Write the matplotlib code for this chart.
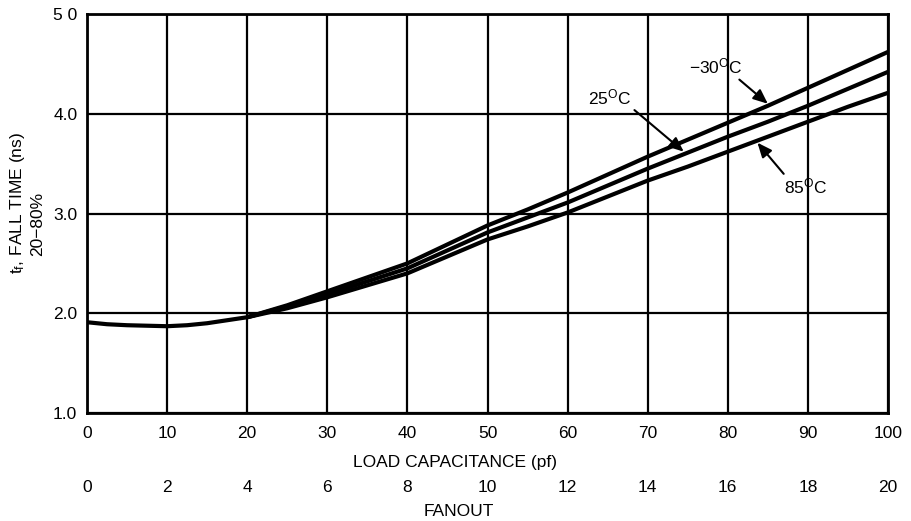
import matplotlib
matplotlib.use("Agg")
import matplotlib.pyplot as plt

plt.rcParams['font.family'] = ['Liberation Sans', 'DejaVu Sans']
plt.rcParams['mathtext.fontset'] = 'custom'
plt.rcParams['mathtext.rm'] = 'Liberation Sans'
plt.rcParams['mathtext.it'] = 'Liberation Sans:italic'

# ---- data ----
x_common = [0, 2.5, 5, 7.5, 10, 12.5, 15, 17.5, 20]
y_common = [1.91, 1.89, 1.88, 1.875, 1.87, 1.88, 1.90, 1.93, 1.96]

x_split = [20, 25, 30, 35, 40, 45, 50, 55, 60, 65, 70, 75, 80, 85, 90, 95, 100]
y_m30 = [1.96, 2.08, 2.22, 2.36, 2.50, 2.69, 2.88, 3.04, 3.21, 3.39, 3.57, 3.74, 3.91, 4.08, 4.26, 4.44, 4.62]
y_25 = [1.96, 2.07, 2.19, 2.32, 2.45, 2.63, 2.81, 2.96, 3.11, 3.28, 3.45, 3.61, 3.77, 3.92, 4.08, 4.25, 4.42]
y_85 = [1.96, 2.05, 2.16, 2.28, 2.40, 2.57, 2.74, 2.87, 3.01, 3.17, 3.33, 3.47, 3.62, 3.77, 3.92, 4.07, 4.21]

cap_ticks = [0, 10, 20, 30, 40, 50, 60, 70, 80, 90, 100]
fanout_labels = ['0', '2', '4', '6', '8', '10', '12', '14', '16', '18', '20']
y_ticks = [1.0, 2.0, 3.0, 4.0, 5.0]
y_ticklabels = ['1.0', '2.0', '3.0', '4.0', '5 0']

FS = 12.5

fig = plt.figure(figsize=(9.11, 5.21), dpi=100)
ax = fig.add_axes([87/911, 1-413/521, (888-87)/911, (413-14)/521])

lw_curve = 3.0
ax.plot(x_common, y_common, color='black', lw=lw_curve, solid_capstyle='butt')
for ys in (y_m30, y_25, y_85):
    ax.plot(x_split, ys, color='black', lw=lw_curve, solid_capstyle='butt', solid_joinstyle='round')

ax.set_xlim(0, 100)
ax.set_ylim(1.0, 5.0)
ax.set_xticks(cap_ticks)
ax.set_yticks(y_ticks)
ax.set_yticklabels(y_ticklabels)
ax.grid(True, color='black', lw=1.6)
ax.set_axisbelow(True)
for s in ax.spines.values():
    s.set_linewidth(2.0)
ax.tick_params(axis='both', length=0, labelsize=FS)
ax.tick_params(axis='x', pad=9)
ax.tick_params(axis='y', pad=7)

sec = ax.secondary_xaxis(-0.155, functions=(lambda v: v / 5.0, lambda v: v * 5.0))
sec.set_xticks([v / 5.0 for v in cap_ticks])
sec.set_xticklabels(fanout_labels)
sec.tick_params(length=0, labelsize=FS, pad=4)
sec.spines['bottom'].set_visible(False)

fig.text(455/911, 1-463/521, 'LOAD CAPACITANCE (pf)', ha='center', va='center', fontsize=FS)
fig.text(459/911, 1-511/521, 'FANOUT', ha='center', va='center', fontsize=FS)

fig.text(18/911, 1-203/521, r't$_\mathrm{f}$, FALL TIME (ns)', rotation=90,
         ha='center', va='center', fontsize=FS)
fig.text(38/911, 1-224/521, '20\u221280%', rotation=90,
         ha='center', va='center', fontsize=FS)

arrow = dict(arrowstyle='-|>,head_length=0.7,head_width=0.3', lw=1.5,
             color='black', shrinkA=0, shrinkB=0)
ax.annotate(r'$-$30$^{\mathrm{O}}$C', xy=(85.0, 4.10), xytext=(78.5, 4.47),
            ha='center', va='center', fontsize=FS,
            arrowprops=dict(arrow, relpos=(0.88, 0.0)))
ax.annotate(r'25$^{\mathrm{O}}$C', xy=(74.5, 3.62), xytext=(65.3, 4.16),
            ha='center', va='center', fontsize=FS,
            arrowprops=dict(arrow, relpos=(1.0, 0.0)))
ax.annotate(r'85$^{\mathrm{O}}$C', xy=(83.7, 3.71), xytext=(89.7, 3.27),
            ha='center', va='center', fontsize=FS,
            arrowprops=dict(arrow, relpos=(0.05, 1.0)))

fig.savefig('out.png', dpi=100, facecolor='white')
